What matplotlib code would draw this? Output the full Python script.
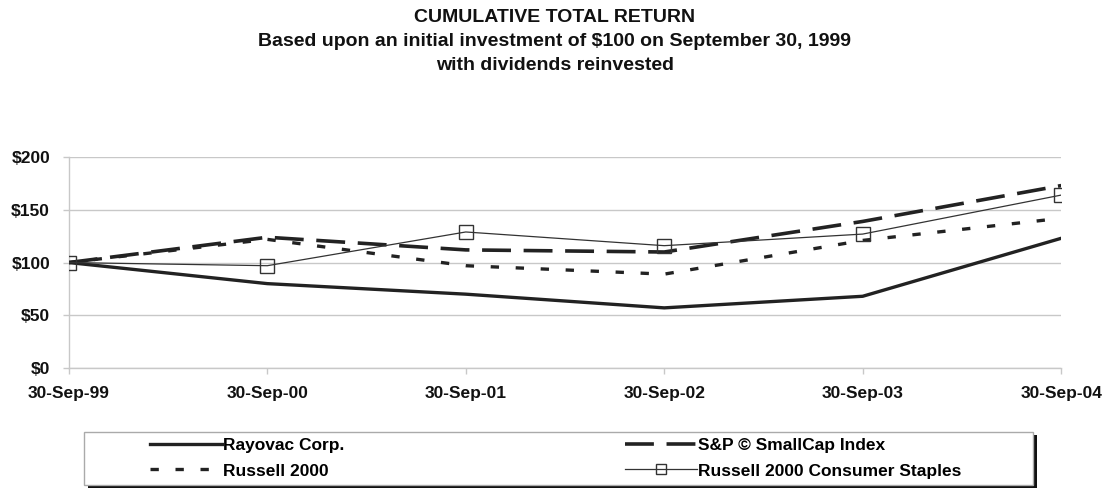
import matplotlib
matplotlib.use("Agg")
import matplotlib.pyplot as plt
from matplotlib.patches import Rectangle

dates = ["30-Sep-99", "30-Sep-00", "30-Sep-01", "30-Sep-02", "30-Sep-03", "30-Sep-04"]
rayovac = [100, 80, 70, 57, 68, 123]
sp_smallcap = [100, 124, 112, 110, 139, 173]
russell_2000 = [100, 122, 97, 89, 121, 142]
russell_staples = [100, 97, 129, 116, 127, 164]
yticks = [0, 50, 100, 150, 200]
ytick_labels = ["$0", "$50", "$100", "$150", "$200"]
title_lines = ["CUMULATIVE TOTAL RETURN",
               "Based upon an initial investment of $100 on September 30, 1999",
               "with dividends reinvested"]

plt.rcParams['font.family'] = ['Liberation Sans', 'DejaVu Sans']

W, H = 1110, 488
fig = plt.figure(figsize=(W / 100, H / 100), dpi=100)
ax = fig.add_axes([0.062, 0.246, 0.894, 0.432])

x = list(range(len(dates)))
l1, = ax.plot(x, rayovac, color='#222222', lw=2.4, solid_joinstyle='round', label='Rayovac Corp.', zorder=3)
l2, = ax.plot(x, russell_2000, color='#222222', lw=2.4, dashes=(2.5, 5), label='Russell 2000', zorder=3)
l3, = ax.plot(x, sp_smallcap, color='#222222', lw=2.6, dashes=(8, 3.5), label='S&P \u00a9 SmallCap Index', zorder=3)
l4, = ax.plot(x, russell_staples, color='#333333', lw=0.9, marker='s', markersize=10,
              markerfacecolor='none', markeredgecolor='#333333', markeredgewidth=1.0,
              label='Russell 2000 Consumer Staples', zorder=4)

ax.set_xlim(0, len(dates) - 1)
ax.set_ylim(0, 200)
ax.set_yticks(yticks)
ax.set_yticklabels(ytick_labels, fontsize=12.5, fontweight='bold')
ax.set_xticks(x)
ax.set_xticklabels(dates, fontsize=12.5, fontweight='bold')
ax.yaxis.grid(True, color='#c8c8c8', lw=1)
ax.set_axisbelow(True)
for s in ['top', 'right']:
    ax.spines[s].set_visible(False)
for s in ['left', 'bottom']:
    ax.spines[s].set_color('#c8c8c8')
    ax.spines[s].set_linewidth(1)
ax.tick_params(axis='both', colors='#c8c8c8', labelcolor='#111111', length=4, width=1)
ax.tick_params(axis='x', pad=9)
ax.tick_params(axis='y', pad=9.5)

for line, ypx in zip(title_lines, [17, 41, 65]):
    fig.text(0.5, 1 - ypx / H, line, ha='center', va='center', fontsize=14,
             fontweight='bold', color='#111111')

# legend frame with shadow
bx0, bx1, by0, by1 = 84, 1033, 432, 485
shadow = Rectangle(((bx0 + 4) / W, 1 - (by1 + 3) / H), (bx1 - bx0) / W, (by1 - by0) / H,
                   transform=fig.transFigure, facecolor='#111111', edgecolor='none', zorder=1)
frame = Rectangle((bx0 / W, 1 - by1 / H), (bx1 - bx0) / W, (by1 - by0) / H,
                  transform=fig.transFigure, facecolor='white', edgecolor='#aaaaaa', lw=1, zorder=2)
fig.patches.extend([shadow, frame])

common = dict(loc='center left', frameon=False, handlelength=4.15, handletextpad=0.05,
              borderpad=0, borderaxespad=0, labelspacing=0.62,
              prop={'weight': 'bold', 'size': 12.5})
legA = fig.legend(handles=[l1, l2], bbox_to_anchor=(150 / W, 1 - 458 / H), **common)
legB = fig.legend(handles=[l3, l4], bbox_to_anchor=(625 / W, 1 - 458 / H), **common)
legB.legend_handles[1].set_markersize(7)
legA.set_zorder(5)
legB.set_zorder(5)

fig.savefig('out.png', dpi=100)
